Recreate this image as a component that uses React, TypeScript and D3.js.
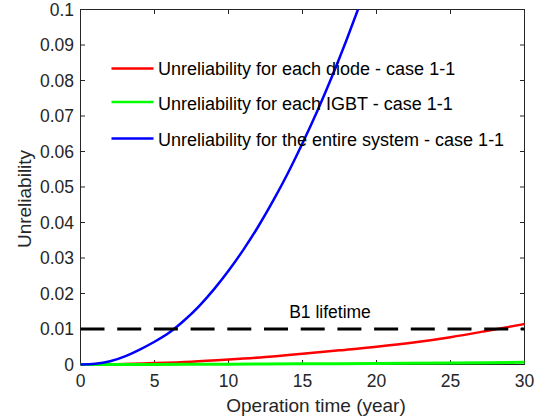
import React from "react";
import * as d3 from "d3";

const WIDTH = 545;
const HEIGHT = 419;
const LEFT = 80.5;
const RIGHT = 524.5;
const TOP = 9.5;
const BOTTOM = 364.5;

const AXIS_COLOR = "#262626";
const FONT = "Liberation Sans, Arial, sans-serif";

// values
const blueYears = [0, 1, 2, 3, 4, 5, 6, 7, 8, 9, 10, 11, 12, 13, 14, 15, 16, 17, 18, 19];
const blueValues = [
  0, 0.0002, 0.0009, 0.0023, 0.0042, 0.0064, 0.0090, 0.0124, 0.0164, 0.0211,
  0.0264, 0.0323, 0.0388, 0.046, 0.0538, 0.0623, 0.0714, 0.0812, 0.0917, 0.1028,
];

const redYears = [0, 2.5, 5, 7.5, 10, 12.5, 15, 17.5, 20, 22.5, 25, 27.5, 30];
const redValues = [0, 0.0001, 0.0004, 0.0008, 0.0014, 0.0021, 0.003, 0.004, 0.005, 0.0062, 0.0077, 0.0095, 0.0114];

const greenYears = [0, 5, 10, 15, 20, 25, 30];
const greenValues = [0, 0.00003, 0.0001, 0.0002, 0.0003, 0.00045, 0.0006];

const b1Level = 0.01;

const xTicks = [0, 5, 10, 15, 20, 25, 30];
const yTicks = [0, 0.01, 0.02, 0.03, 0.04, 0.05, 0.06, 0.07, 0.08, 0.09, 0.1];

const legendLabels = [
  "Unreliability for each diode - case 1-1",
  "Unreliability for each IGBT - case 1-1",
  "Unreliability for the entire system - case 1-1",
];
const legendColors = ["#ff0000", "#00ff00", "#0000ff"];

export default function App() {
  const x = d3.scaleLinear().domain([0, 30]).range([LEFT, RIGHT]);
  const y = d3.scaleLinear().domain([0, 0.1]).range([BOTTOM, TOP]);

  const line = d3
    .line<[number, number]>()
    .x((d) => x(d[0]))
    .y((d) => y(d[1]))
    .curve(d3.curveMonotoneX);

  const series = [
    { pts: redYears.map((t, i) => [t, redValues[i]] as [number, number]), color: legendColors[0], w: 2.5 },
    { pts: greenYears.map((t, i) => [t, greenValues[i]] as [number, number]), color: legendColors[1], w: 3 },
    { pts: blueYears.map((t, i) => [t, blueValues[i]] as [number, number]), color: legendColors[2], w: 2.5 },
  ];

  const fmtY = (v: number) => (v === 0 ? "0" : d3.format(".2~f")(v));

  const legendY = [68.5, 102, 138.5];
  const legendTextY = [75, 110, 146];

  return (
    <svg
      width={WIDTH}
      height={HEIGHT}
      style={{ position: "absolute", left: 0, top: 0, background: "#fff" }}
      fontFamily={FONT}
    >
      <defs>
        {/* clip only the data range; strokes may spill over the box like in MATLAB */}
        <clipPath id="plot">
          <rect x={LEFT - 4} y={TOP} width={RIGHT - LEFT + 8} height={BOTTOM - TOP + 5} />
        </clipPath>
      </defs>

      {/* box */}
      <rect x={LEFT} y={TOP} width={RIGHT - LEFT} height={BOTTOM - TOP} fill="none" stroke={AXIS_COLOR} strokeWidth={1} />

      {xTicks.map((t) => (
        <g key={"x" + t}>
          <line x1={x(t)} x2={x(t)} y1={BOTTOM} y2={BOTTOM - 4.5} stroke={AXIS_COLOR} />
          <line x1={x(t)} x2={x(t)} y1={TOP} y2={TOP + 4.5} stroke={AXIS_COLOR} />
          <text x={x(t)} y={386.5} fontSize={17.5} textAnchor="middle" fill={AXIS_COLOR}>
            {t}
          </text>
        </g>
      ))}

      {yTicks.map((v) => (
        <g key={"y" + v}>
          <line x1={LEFT} x2={LEFT + 4.5} y1={y(v)} y2={y(v)} stroke={AXIS_COLOR} />
          <line x1={RIGHT} x2={RIGHT - 4.5} y1={y(v)} y2={y(v)} stroke={AXIS_COLOR} />
          <text x={74} y={y(v)} dy="0.35em" fontSize={17.5} textAnchor="end" fill={AXIS_COLOR}>
            {fmtY(v)}
          </text>
        </g>
      ))}

      <g clipPath="url(#plot)">
        {series.map((s, i) => (
          <path key={i} d={line(s.pts) || ""} fill="none" stroke={s.color} strokeWidth={s.w} />
        ))}
        <line
          x1={x(0)}
          x2={x(30)}
          y1={y(b1Level)}
          y2={y(b1Level)}
          stroke="#000"
          strokeWidth={3}
          strokeDasharray="24 12.7"
        />
      </g>

      <text x={330} y={317.5} fontSize={17.5} textAnchor="middle" fill="#000">
        B1 lifetime
      </text>

      <text x={316} y={411.5} fontSize={19} textAnchor="middle" fill={AXIS_COLOR}>
        Operation time (year)
      </text>
      <text
        transform={`translate(30.5, 199) rotate(-90)`}
        fontSize={19}
        textAnchor="middle"
        fill={AXIS_COLOR}
      >
        Unreliability
      </text>

      {legendLabels.map((label, i) => (
        <g key={label}>
          <line x1={111.5} x2={153.5} y1={legendY[i]} y2={legendY[i]} stroke={legendColors[i]} strokeWidth={2.5} />
          <text x={158} y={legendTextY[i]} fontSize={18} fill="#000">
            {label}
          </text>
        </g>
      ))}
    </svg>
  );
}
